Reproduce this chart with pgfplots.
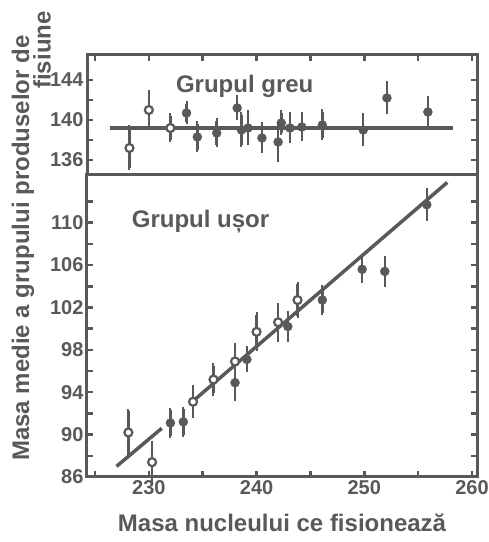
\documentclass[border=0pt]{standalone}
\usepackage{pgfplots}
\pgfplotsset{compat=1.18}
\usepackage{pgfplotstable}
\usepackage{fontspec}
\setmainfont{Liberation Sans}
\definecolor{ink}{HTML}{595959}

\pgfplotstableread{
x y e
228.2 137.2 2.0
230.0 141.0 1.7
232.0 139.2 1.2
}\upopen
\pgfplotstableread{
x y e
233.5 140.7 0.9
234.5 138.3 1.3
236.3 138.7 1.2
238.2 141.2 1.0
238.6 139.0 1.5
239.2 139.2 1.5
240.5 138.2 1.3
242.0 137.8 1.8
242.3 139.7 1.0
243.1 139.2 1.3
244.2 139.3 1.2
246.1 139.5 1.3
249.9 139.0 1.4
252.1 142.2 1.4
255.9 140.8 1.3
}\upfull
\pgfplotstableread{
x y e
228.1 90.2 2.0
230.3 87.4 1.8
234.1 93.1 1.3
236.0 95.2 1.3
238.0 96.9 1.5
240.0 99.7 1.6
242.0 100.6 1.6
243.8 102.7 1.5
}\loopen
\pgfplotstableread{
x y e
232.0 91.1 1.2
233.2 91.2 1.2
238.0 94.9 1.5
239.1 97.1 1.0
242.9 100.2 1.2
246.1 102.7 1.2
249.8 105.6 1.1
251.9 105.4 1.2
255.8 111.7 1.3
}\lofull

\begin{document}
\begin{tikzpicture}
\useasboundingbox (0pt,0pt) rectangle (489pt,542pt);
\pgfplotsset{
  common/.style={
    scale only axis, width=390pt,
    xmin=224.26, xmax=260.46,
    axis line style={ink, line width=3pt},
    tick style={ink, line width=2.5pt},
    major tick length=6pt, tick align=inside,
    xtick={225,230,...,260},
    ticklabel style={font=\fontsize{20}{20}\selectfont\bfseries, text=ink},
    label style={font=\fontsize{24}{24}\selectfont\bfseries, text=ink},
    clip=false,
  },
  errs/.style={
    error bars/.cd, y dir=both, y explicit,
    error bar style={ink, line width=2.5pt},
    error mark options={ink, line width=2pt, mark size=2.5pt},
  },
}
% lower panel: light group
\begin{axis}[common,
  at={(87pt,65pt)}, anchor=south west, height=302pt,
  ymin=86, ymax=114.5,
  xtick pos=bottom,
  xticklabels={,230,,240,,250,,260},
  ytick={86,88,...,112},
  yticklabels={86,,90,,94,,98,,102,,106,,110,},
  xlabel={Masa nucleului ce fisionează},
  xlabel style={at={(axis description cs:0.5,0)}, anchor=center, yshift=-46pt},
  ylabel={Masa medie a grupului produselor de},
  ylabel style={at={(axis description cs:-0.164,0.758)}, anchor=center},
]
\addplot[ink, line width=3.5pt] coordinates {(227,87.0) (231.2,90.6)};
\addplot[ink, line width=3.5pt] coordinates {(233.8,92.9) (257.7,113.8)};
\addplot[ink, only marks, mark=*, mark size=4pt,
  mark options={fill=white, draw=ink, line width=2.2pt}, errs]
  table[x=x, y=y, y error=e] {\loopen};
\addplot[ink, only marks, mark=*, mark size=4.5pt,
  mark options={fill=ink, draw=ink}, errs]
  table[x=x, y=y, y error=e] {\lofull};
\node[text=ink, font=\fontsize{24}{24}\selectfont\bfseries] at (axis cs:234.8,110.1) {Grupul ușor};
\end{axis}
% upper panel: heavy group
\begin{axis}[common,
  at={(87pt,367pt)}, anchor=south west, height=120pt,
  ymin=134.5, ymax=146.5,
  xtick pos=top,
  xticklabels={},
  ytick={136,138,...,144},
  yticklabels={136,,140,,144},
]
\addplot[ink, line width=3.5pt] coordinates {(226.4,139.2) (258.2,139.2)};
\addplot[ink, only marks, mark=*, mark size=4pt,
  mark options={fill=white, draw=ink, line width=2.2pt}, errs]
  table[x=x, y=y, y error=e] {\upopen};
\addplot[ink, only marks, mark=*, mark size=4.5pt,
  mark options={fill=ink, draw=ink}, errs]
  table[x=x, y=y, y error=e] {\upfull};
\node[text=ink, font=\fontsize{24}{24}\selectfont\bfseries] at (axis cs:238.9,143.4) {Grupul greu};
\end{axis}
\node[rotate=90, text=ink, font=\fontsize{24}{24}\selectfont\bfseries] at (42pt,492pt) {fisiune};
\end{tikzpicture}
\end{document}
